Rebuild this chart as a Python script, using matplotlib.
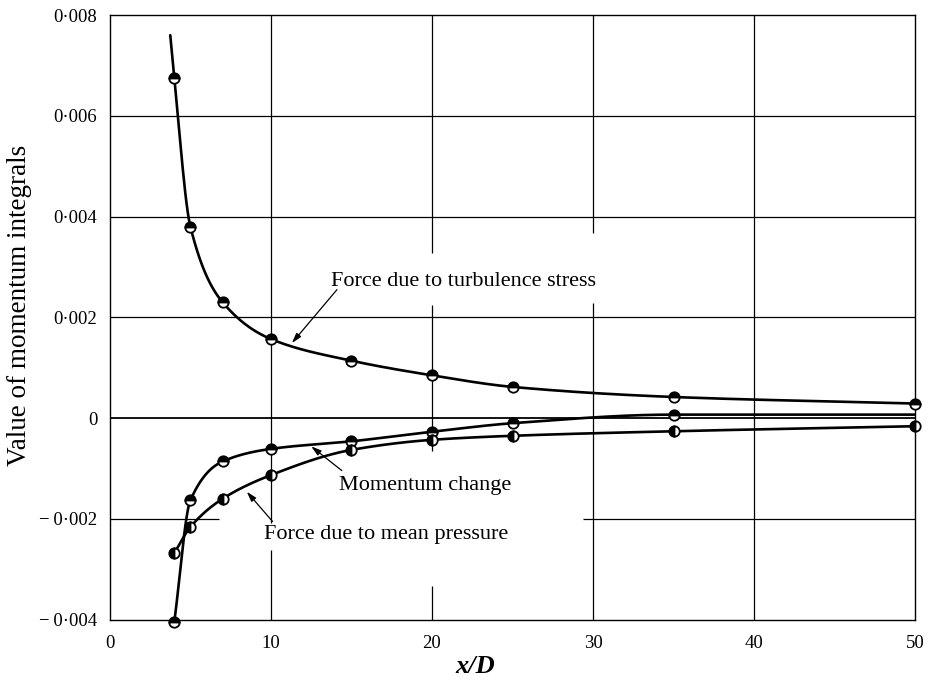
import numpy as np
import matplotlib
matplotlib.use("Agg")
import matplotlib.pyplot as plt

plt.rcParams['font.family'] = ['Liberation Serif', 'DejaVu Serif']
plt.rcParams['mathtext.fontset'] = 'stix'

# values
x_pts = [4, 5, 7, 10, 15, 20, 25, 35, 50]
turb = [0.00675, 0.0038, 0.0023, 0.00157, 0.00114, 0.00085, 0.00062, 0.00042, 0.00029]
turb_start = (3.75, 0.0076)          # where the drawn curve begins (no marker)
x_mom = [4, 5, 7, 10, 15, 20, 25, 35]
mom = [-0.00405, -0.00163, -0.00086, -0.00061, -0.00046, -0.00027, -0.0001, 0.00007]
mom_end = (50, 0.00007)              # curve carries on to x/D = 50 (no marker)
press = [-0.00268, -0.00216, -0.0016, -0.00113, -0.00063, -0.00043, -0.00035, -0.00026, -0.00016]

xticks = [0, 10, 20, 30, 40, 50]
yticks = [-0.004, -0.002, 0, 0.002, 0.004, 0.006, 0.008]
ylabels = ['\u2212\u20090\u00b7004', '\u2212\u20090\u00b7002', '0', '0\u00b7002', '0\u00b7004', '0\u00b7006', '0\u00b7008']


def pchip(x, y, xs):
    # monotone cubic, only used to draw a smooth pen line through the points
    x = np.asarray(x, float); y = np.asarray(y, float)
    h = np.diff(x); d = np.diff(y) / h
    m = np.zeros(len(x))
    m[0], m[-1] = d[0], d[-1]
    for k in range(1, len(x) - 1):
        if d[k-1] * d[k] > 0:
            w1 = 2*h[k] + h[k-1]; w2 = h[k] + 2*h[k-1]
            m[k] = (w1 + w2) / (w1/d[k-1] + w2/d[k])
    i = np.clip(np.searchsorted(x, xs) - 1, 0, len(x) - 2)
    t = (xs - x[i]) / h[i]
    h00 = 2*t**3 - 3*t**2 + 1; h10 = t**3 - 2*t**2 + t
    h01 = -2*t**3 + 3*t**2; h11 = t**3 - t**2
    return h00*y[i] + h10*h[i]*m[i] + h01*y[i+1] + h11*h[i]*m[i+1]


fig = plt.figure(figsize=(9.31, 6.84), dpi=100)
ax = fig.add_axes([0.118, 0.094, 0.865, 0.884])
ax.set_xlim(0, 50)
ax.set_ylim(-0.004, 0.008)

# grid drawn by hand, with the gaps the printed figure leaves round the labels
gk = dict(color='black', lw=0.9, zorder=1)
vgaps = {10: [(-0.00262, -0.00208)], 20: [(-0.00333, -0.00065), (0.00224, 0.00327)],
         30: [(0.00228, 0.00368)], 40: []}
for xv, gaps in vgaps.items():
    lo = -0.004
    for g0, g1 in gaps:
        ax.vlines(xv, lo, g0, **gk)
        lo = g1
    ax.vlines(xv, lo, 0.008, **gk)
for yv in [0.002, 0.004, 0.006]:
    ax.hlines(yv, 0, 50, **gk)
ax.hlines(0, 0, 50, color='black', lw=1.3, zorder=1)
ax.hlines(-0.002, 0, 6.8, **gk)
ax.hlines(-0.002, 29.4, 50, **gk)

lk = dict(color='black', lw=1.9, zorder=3, solid_capstyle='round')
tx = [turb_start[0]] + x_pts
ty = [turb_start[1]] + turb
xs = np.linspace(tx[0], tx[-1], 600)
ax.plot(xs, pchip(tx, ty, xs), **lk)
mx = x_mom + [mom_end[0]]
my = mom + [mom_end[1]]
xs = np.linspace(mx[0], mx[-1], 600)
ax.plot(xs, pchip(mx, my, xs), **lk)
xs = np.linspace(x_pts[0], x_pts[-1], 600)
ax.plot(xs, pchip(x_pts, press, xs), **lk)

mk = dict(ls='none', marker='o', ms=7.5, mew=1.3, mec='black', mfc='black',
          markerfacecoloralt='white', zorder=4, clip_on=False)
ax.plot(x_pts, turb, fillstyle='top', **mk)
ax.plot(x_mom, mom, fillstyle='top', **mk)
ax.plot(x_pts, press, fillstyle='left', **mk)

fs = 16
ak = dict(arrowstyle='-|>,head_length=0.6,head_width=0.18', color='black', lw=0.9,
          shrinkA=0, shrinkB=0)
ax.annotate('', xy=(11.3, 0.00149), xytext=(14.1, 0.00255), arrowprops=ak, zorder=5)
ax.text(13.7, 0.00272, 'Force due to turbulence stress', fontsize=fs, va='center', ha='left')
ax.annotate('', xy=(12.5, -0.00056), xytext=(14.4, -0.00104), arrowprops=ak, zorder=5)
ax.text(14.2, -0.00134, 'Momentum change', fontsize=fs, va='center', ha='left')
ax.annotate('', xy=(8.5, -0.00146), xytext=(10.1, -0.00205), arrowprops=ak, zorder=5)
ax.text(9.6, -0.00231, 'Force due to mean pressure', fontsize=fs, va='center', ha='left')

ax.set_xticks(xticks)
ax.set_xticklabels([str(v) for v in xticks])
ax.set_yticks(yticks)
ax.set_yticklabels(ylabels)
ax.tick_params(length=0, labelsize=13.5, pad=9)
ax.tick_params(axis='x', pad=11)
for s in ax.spines.values():
    s.set_linewidth(1.0)

ax.set_xlabel('x/D', fontsize=19, fontstyle='italic', fontweight='bold')
ax.xaxis.set_label_coords(0.453, -0.058)
ax.set_ylabel('Value of momentum integrals', fontsize=19.5)
ax.yaxis.set_label_coords(-0.097, 0.52)

fig.savefig('out.png', dpi=100)
